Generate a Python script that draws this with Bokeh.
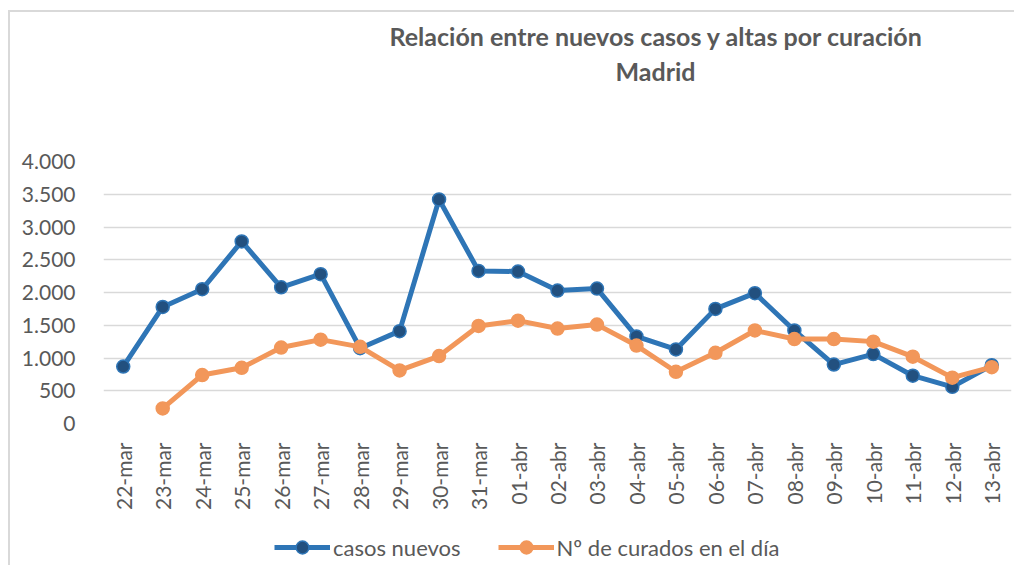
from bokeh.plotting import figure
from bokeh.layouts import column
from bokeh.models import (FactorRange, Range1d, FixedTicker, Legend, LegendItem,
                          Title, ColumnDataSource)
from bokeh.embed import file_html
from bokeh.resources import INLINE
import math

# ---- data ----
fechas = ["22-mar", "23-mar", "24-mar", "25-mar", "26-mar", "27-mar", "28-mar",
          "29-mar", "30-mar", "31-mar", "01-abr", "02-abr", "03-abr", "04-abr",
          "05-abr", "06-abr", "07-abr", "08-abr", "09-abr", "10-abr", "11-abr",
          "12-abr", "13-abr"]
casos_nuevos = [870, 1780, 2050, 2780, 2080, 2280, 1150, 1410, 3420, 2330, 2320,
                2030, 2060, 1330, 1130, 1750, 1990, 1420, 900, 1060, 730, 560, 890]
curados = [float("nan"), 230, 740, 850, 1160, 1280, 1170, 810, 1030, 1490, 1570,
           1450, 1510, 1190, 790, 1080, 1420, 1290, 1290, 1250, 1020, 700, 860]
y_ticks = [0, 500, 1000, 1500, 2000, 2500, 3000, 3500, 4000]
y_tick_labels = ["0", "500", "1.000", "1.500", "2.000", "2.500", "3.000", "3.500", "4.000"]
titulo = ["Relación entre nuevos casos y altas por curación", "Madrid"]
series_names = ["casos nuevos", "Nº de curados en el día"]

FONT = "Lato"
GRAY = "#595959"
BLUE = "#2E75B6"
BLUE_DARK = "#22507F"
ORANGE = "#F2975A"

src = ColumnDataSource(dict(x=fechas, a=casos_nuevos, b=curados))


def draw_series(fig):
    l1 = fig.line("x", "a", source=src, line_color=BLUE, line_width=5)
    s1 = fig.scatter("x", "a", source=src, size=13, fill_color=BLUE_DARK,
                     line_color=BLUE, line_width=1.5)
    l2 = fig.line("x", "b", source=src, line_color=ORANGE, line_width=5)
    s2 = fig.scatter("x", "b", source=src, size=13, fill_color=ORANGE,
                     line_color=ORANGE, line_width=1.5)
    return (l1, s1), (l2, s2)


# ---- main chart ----
p = figure(width=1004, height=513, x_range=FactorRange(*fechas),
           y_range=Range1d(0, 4000), output_backend="svg", toolbar_location=None,
           min_border_left=93, min_border_right=3, min_border_top=149,
           min_border_bottom=102)
p.outline_line_color = None
p.x_range.range_padding = 0
p.xgrid.grid_line_color = None
p.ygrid.grid_line_color = "#D9D9D9"
p.ygrid.grid_line_width = 1.5
p.yaxis.ticker = FixedTicker(ticks=y_ticks)
p.yaxis.major_label_overrides = {t: l for t, l in zip(y_ticks, y_tick_labels)}
for ax in (p.xaxis, p.yaxis):
    ax.axis_line_color = None
    ax.major_tick_line_color = None
    ax.minor_tick_line_color = None
    ax.major_label_text_font = FONT
    ax.major_label_text_font_size = "21px"
    ax.major_label_text_color = GRAY
p.yaxis.major_label_standoff = 22
p.xaxis.major_label_standoff = 13
p.xaxis.major_label_orientation = math.pi / 2
draw_series(p)

# titles: added nearest-first (spacer, then Madrid, then main line)
p.add_layout(Title(text=" ", standoff=71, text_font_size="1px"), "above")
p.add_layout(Title(text=titulo[1], align="left", offset=512, standoff=4,
                   text_font=FONT, text_font_style="bold", text_font_size="25px",
                   text_color=GRAY), "above")
p.add_layout(Title(text=titulo[0], align="left", offset=286, standoff=2,
                   text_font=FONT, text_font_style="bold", text_font_size="25px",
                   text_color=GRAY), "above")

# ---- legend strip (same series, drawn out of view; only the legend shows) ----
leg = figure(width=1004, height=40, x_range=p.x_range, y_range=Range1d(-20000, -19000),
             output_backend="svg", toolbar_location=None,
             min_border_left=0, min_border_right=0, min_border_top=0,
             min_border_bottom=0)
leg.axis.visible = False
leg.grid.grid_line_color = None
leg.outline_line_color = None
r_a, r_b = draw_series(leg)
legend = Legend(items=[LegendItem(label=series_names[0], renderers=list(r_a)),
                       LegendItem(label=series_names[1], renderers=list(r_b))],
                location=(171, 2), orientation="horizontal",
                glyph_width=56, glyph_height=32, label_standoff=3, spacing=37,
                padding=0, margin=0, border_line_color=None,
                background_fill_alpha=0, label_text_font=FONT,
                label_text_font_size="22px", label_text_color=GRAY)
leg.add_layout(legend)

layout = column(p, leg, spacing=0,
                styles={"margin-left": "8px", "margin-top": "10px",
                        "border-left": "2px solid #D9D9D9",
                        "border-top": "2px solid #D9D9D9"})

open("out.html", "w").write(file_html(layout, INLINE))
